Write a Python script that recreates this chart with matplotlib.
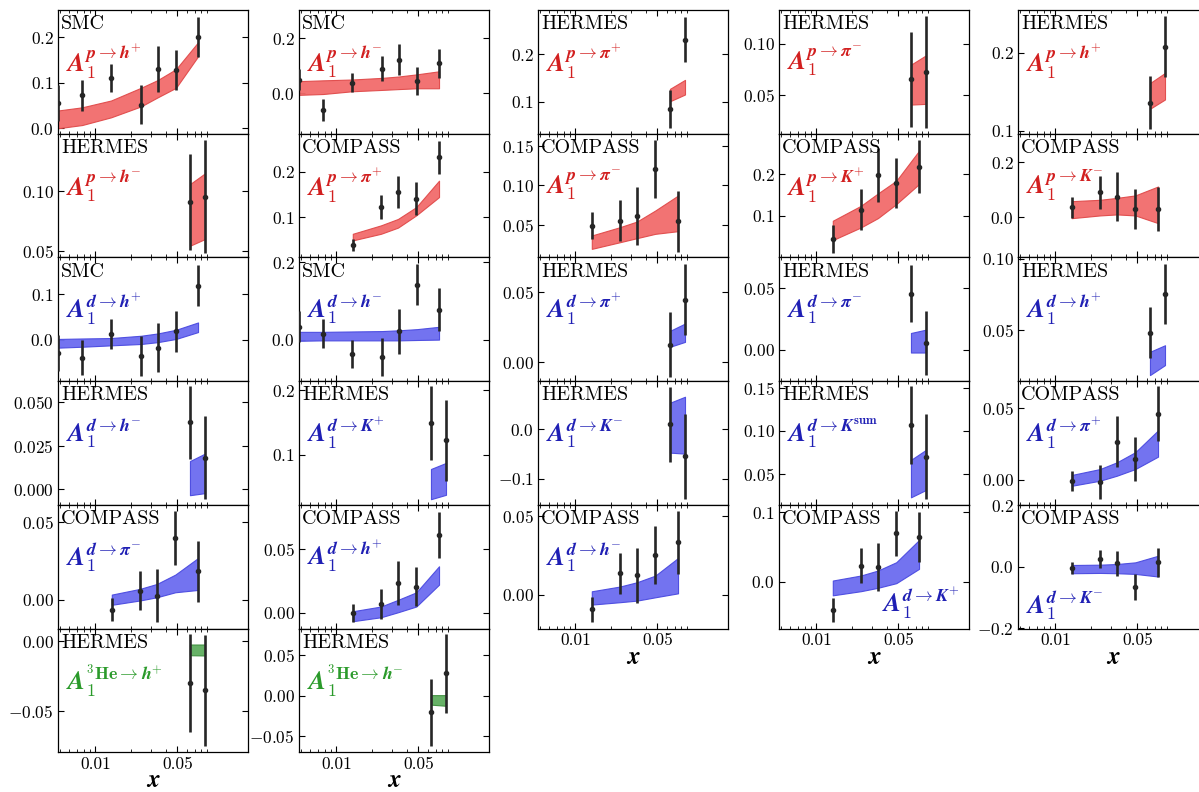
import matplotlib
matplotlib.use("Agg")
import matplotlib.pyplot as plt
from matplotlib.ticker import FixedLocator, FixedFormatter, NullFormatter, LogLocator

plt.rcParams["font.family"] = "serif"
plt.rcParams["font.serif"] = ["cmr10"]
plt.rcParams["mathtext.fontset"] = "cm"
plt.rcParams["axes.formatter.use_mathtext"] = True

# ---------------- x bins of the experiments ----------------
x_smc = [0.0048, 0.0077, 0.0136, 0.0245, 0.034, 0.0487, 0.075]
x_compass = [0.0138, 0.024, 0.0335, 0.048, 0.075]
x_hermes = [0.064, 0.086]

# ---------------- proton target ----------------
smc_p_hp_y = [0.055, 0.072, 0.110, 0.052, 0.130, 0.128, 0.200]
smc_p_hp_err = [0.040, 0.035, 0.031, 0.042, 0.050, 0.043, 0.044]
smc_p_hp_lo = [0.0, 0.007, 0.024, 0.048, 0.068, 0.089, 0.158]
smc_p_hp_hi = [0.039, 0.046, 0.061, 0.089, 0.106, 0.130, 0.189]

hermes_p_hm_y = [0.0908, 0.0954]
hermes_p_hm_err = [0.040, 0.047]
hermes_p_hm_lo = [0.0547, 0.0603]
hermes_p_hm_hi = [0.106, 0.115]

smc_p_hm_y = [0.050, -0.061, 0.039, 0.090, 0.123, 0.044, 0.110]
smc_p_hm_err = [0.040, 0.039, 0.034, 0.047, 0.058, 0.051, 0.053]
smc_p_hm_lo = [-0.006, -0.003, 0.007, 0.012, 0.015, 0.018, 0.018]
smc_p_hm_hi = [0.044, 0.047, 0.050, 0.056, 0.061, 0.069, 0.080]

compass_p_pip_y = [0.0394, 0.123, 0.156, 0.140, 0.231]
compass_p_pip_err = [0.0135, 0.026, 0.035, 0.036, 0.037]
compass_p_pip_lo = [0.049, 0.0635, 0.077, 0.104, 0.144]
compass_p_pip_hi = [0.0635, 0.082, 0.096, 0.122, 0.180]

hermes_p_pip_y = [0.0844, 0.231]
hermes_p_pip_err = [0.040, 0.048]
hermes_p_pip_lo = [0.1007, 0.115]
hermes_p_pip_hi = [0.127, 0.146]

compass_p_pim_y = [0.0487, 0.0551, 0.0611, 0.121, 0.0543]
compass_p_pim_err = [0.017, 0.026, 0.037, 0.037, 0.039]
compass_p_pim_lo = [0.0189, 0.0274, 0.0326, 0.0381, 0.0415]
compass_p_pim_hi = [0.036, 0.0466, 0.0538, 0.0679, 0.087]

hermes_p_pim_y = [0.0648, 0.0717]
hermes_p_pim_err = [0.047, 0.055]
hermes_p_pim_lo = [0.0401, 0.0408]
hermes_p_pim_hi = [0.0793, 0.0885]

compass_p_kp_y = [0.044, 0.1144, 0.198, 0.1776, 0.218]
compass_p_kp_err = [0.033, 0.049, 0.064, 0.060, 0.064]
compass_p_kp_lo = [0.0416, 0.072, 0.0944, 0.128, 0.176]
compass_p_kp_hi = [0.088, 0.124, 0.1536, 0.184, 0.256]

hermes_p_hp_y = [0.1358, 0.2078]
hermes_p_hp_err = [0.034, 0.039]
hermes_p_hp_lo = [0.128, 0.140]
hermes_p_hp_hi = [0.161, 0.1741]

compass_p_km_y = [0.036, 0.091, 0.075, 0.030, 0.030]
compass_p_km_err = [0.038, 0.060, 0.090, 0.073, 0.080]
compass_p_km_lo = [-0.004, 0.006, 0.0097, 0.006, -0.022]
compass_p_km_hi = [0.058, 0.063, 0.070, 0.079, 0.1115]

# ---------------- deuteron target ----------------
smc_d_hp_y = [-0.029, -0.039, 0.013, -0.035, -0.017, 0.019, 0.118]
smc_d_hp_err = [0.040, 0.038, 0.033, 0.044, 0.053, 0.045, 0.045]
smc_d_hp_lo = [-0.017, -0.015, -0.012, -0.009, -0.005, 0.002, 0.017]
smc_d_hp_hi = [0.002, 0.003, 0.004, 0.009, 0.014, 0.022, 0.038]

hermes_d_hm_y = [0.0383, 0.0181]
hermes_d_hm_err = [0.021, 0.024]
hermes_d_hm_lo = [-0.0035, -0.0023]
hermes_d_hm_hi = [0.0161, 0.0204]

compass_d_pim_y = [-0.0064, 0.0060, 0.0028, 0.0399, 0.0185]
compass_d_pim_err = [0.0075, 0.0128, 0.017, 0.0175, 0.0197]
compass_d_pim_lo = [-0.0032, -0.0004, 0.0017, 0.0049, 0.0064]
compass_d_pim_hi = [0.0034, 0.0071, 0.0103, 0.0163, 0.027]

smc_d_hm_y = [0.033, 0.0155, -0.038, -0.045, 0.021, 0.142, 0.077]
smc_d_hm_err = [0.040, 0.037, 0.036, 0.048, 0.058, 0.052, 0.055]
smc_d_hm_lo = [-0.003, -0.002, -0.002, -0.002, -0.002, -0.001, 0.0]
smc_d_hm_hi = [0.020, 0.020, 0.021, 0.022, 0.024, 0.027, 0.033]

hermes_d_kp_y = [0.149, 0.122]
hermes_d_kp_err = [0.058, 0.063]
hermes_d_kp_lo = [0.0307, 0.0375]
hermes_d_kp_hi = [0.0776, 0.087]

compass_d_hp_y = [0.0, 0.007, 0.0234, 0.0206, 0.0612]
compass_d_hp_err = [0.007, 0.012, 0.017, 0.015, 0.018]
compass_d_hp_lo = [-0.0065, -0.0034, 0.0005, 0.005, 0.0221]
compass_d_hp_hi = [0.0013, 0.005, 0.0102, 0.0161, 0.0365]

hermes_d_pip_y = [0.0127, 0.0446]
hermes_d_pip_err = [0.023, 0.025]
hermes_d_pip_lo = [0.0111, 0.0146]
hermes_d_pip_hi = [0.0224, 0.0276]

hermes_d_km_y = [0.0101, -0.0547]
hermes_d_km_err = [0.075, 0.086]
hermes_d_km_lo = [-0.047, -0.049]
hermes_d_km_hi = [0.0534, 0.0655]

compass_d_hm_y = [-0.0092, 0.0137, 0.0124, 0.0252, 0.0332]
compass_d_hm_err = [0.008, 0.013, 0.0175, 0.018, 0.020]
compass_d_hm_lo = [-0.0061, -0.0046, -0.0036, -0.0015, 0.001]
compass_d_hm_hi = [0.0023, 0.0053, 0.008, 0.0122, 0.0233]

hermes_d_pim_y = [0.0452, 0.0054]
hermes_d_pim_err = [0.023, 0.026]
hermes_d_pim_lo = [-0.0024, -0.0024]
hermes_d_pim_hi = [0.0134, 0.0161]

hermes_d_ksum_y = [0.107, 0.0702]
hermes_d_ksum_err = [0.045, 0.049]
hermes_d_ksum_lo = [0.0227, 0.0313]
hermes_d_ksum_hi = [0.0663, 0.078]

compass_d_kp_y = [-0.0409, 0.0231, 0.0207, 0.0697, 0.0649]
compass_d_kp_err = [0.017, 0.025, 0.035, 0.033, 0.036]
compass_d_kp_lo = [-0.020, -0.014, -0.0091, -0.0024, 0.0183]
compass_d_kp_hi = [0.0014, 0.0087, 0.0159, 0.0279, 0.060]

hermes_d_hp_y = [0.0484, 0.0756]
hermes_d_hp_err = [0.018, 0.021]
hermes_d_hp_lo = [0.0186, 0.0256]
hermes_d_hp_hi = [0.0349, 0.0395]

compass_d_pip_y = [-0.0007, -0.0014, 0.0265, 0.0144, 0.0458]
compass_d_pip_err = [0.007, 0.0117, 0.0175, 0.0155, 0.019]
compass_d_pip_lo = [-0.0042, -0.0007, 0.0028, 0.0074, 0.016]
compass_d_pip_hi = [0.0033, 0.0074, 0.0121, 0.0191, 0.0342]

compass_d_km_y = [-0.0054, 0.0247, 0.0107, -0.0665, 0.014]
compass_d_km_err = [0.020, 0.029, 0.040, 0.041, 0.048]
compass_d_km_lo = [-0.0214, -0.0204, -0.0214, -0.0236, -0.032]
compass_d_km_hi = [0.0054, 0.0064, 0.0086, 0.014, 0.0354]

# ---------------- helium-3 target ----------------
hermes_he_hp_y = [-0.0299, -0.0351]
hermes_he_hp_err = [0.035, 0.0395]
hermes_he_hp_lo = [-0.0100, -0.0102]
hermes_he_hp_hi = [-0.0024, -0.0024]

hermes_he_hm_y = [-0.0207, 0.0277]
hermes_he_hm_err = [0.042, 0.0485]
hermes_he_hm_lo = [-0.011, -0.0124]
hermes_he_hm_hi = [0.0008, 0.0008]

# ---------------- styling ----------------
FILL = {"p": "#f26b6b", "d": "#6b6bf0", "he": "#5fae5f"}
EDGE = {"p": "#e04a4a", "d": "#4a4ae0", "he": "#3d8f3d"}
TEXT = {"p": "#d21f1f", "d": "#1f1fb4", "he": "#2a9a2a"}


def label(target, hadron):
    tgt = {"p": r"\mathbfit{p}", "d": r"\mathbfit{d}", "he": r"^{\mathbf{3}}\mathbf{He}"}[target]
    had = {
        "h+": r"\mathbfit{h}^{+}", "h-": r"\mathbfit{h}^{-}",
        "pi+": r"\mathbfit{\pi}^{+}", "pi-": r"\mathbfit{\pi}^{-}",
        "K+": r"\mathbfit{K}^{+}", "K-": r"\mathbfit{K}^{-}",
        "Ksum": r"\mathbfit{K}^{\mathbf{sum}}",
    }[hadron]
    return r"$\mathbfit{A}_{\mathbf{1}}^{" + tgt + r"\rightarrow " + had + "}$"


# (column, row, experiment, target, hadron, x, y, err, lo, hi, ylim, yticks, label corner)
panels = [
    (0, 0, "SMC", "p", "h+", x_smc, smc_p_hp_y, smc_p_hp_err, smc_p_hp_lo, smc_p_hp_hi, (-0.012, 0.26), [0.0, 0.1, 0.2], "tl"),
    (0, 1, "HERMES", "p", "h-", x_hermes, hermes_p_hm_y, hermes_p_hm_err, hermes_p_hm_lo, hermes_p_hm_hi, (0.045, 0.148), [0.05, 0.10], "tl"),
    (0, 2, "SMC", "d", "h+", x_smc, smc_d_hp_y, smc_d_hp_err, smc_d_hp_lo, smc_d_hp_hi, (-0.09, 0.18), [0.0, 0.1], "tl"),
    (0, 3, "HERMES", "d", "h-", x_hermes, hermes_d_hm_y, hermes_d_hm_err, hermes_d_hm_lo, hermes_d_hm_hi, (-0.009, 0.062), [0.0, 0.025, 0.05], "tl"),
    (0, 4, "COMPASS", "d", "pi-", x_compass, compass_d_pim_y, compass_d_pim_err, compass_d_pim_lo, compass_d_pim_hi, (-0.0185, 0.0614), [0.0, 0.05], "tl"),
    (0, 5, "HERMES", "he", "h+", x_hermes, hermes_he_hp_y, hermes_he_hp_err, hermes_he_hp_lo, hermes_he_hp_hi, (-0.079, 0.009), [-0.05, 0.0], "tl"),
    (1, 0, "SMC", "p", "h-", x_smc, smc_p_hm_y, smc_p_hm_err, smc_p_hm_lo, smc_p_hm_hi, (-0.148, 0.304), [0.0, 0.2], "tl"),
    (1, 1, "COMPASS", "p", "pi+", x_compass, compass_p_pip_y, compass_p_pip_err, compass_p_pip_lo, compass_p_pip_hi, (0.0117, 0.283), [0.1, 0.2], "tl"),
    (1, 2, "SMC", "d", "h-", x_smc, smc_d_hm_y, smc_d_hm_err, smc_d_hm_lo, smc_d_hm_hi, (-0.107, 0.212), [0.0, 0.2], "tl"),
    (1, 3, "HERMES", "d", "K+", x_hermes, hermes_d_kp_y, hermes_d_kp_err, hermes_d_kp_lo, hermes_d_kp_hi, (0.022, 0.214), [0.1, 0.2], "tl"),
    (1, 4, "COMPASS", "d", "h+", x_compass, compass_d_hp_y, compass_d_hp_err, compass_d_hp_lo, compass_d_hp_hi, (-0.0122, 0.0846), [0.0, 0.05], "tl"),
    (1, 5, "HERMES", "he", "h-", x_hermes, hermes_he_hm_y, hermes_he_hm_err, hermes_he_hm_lo, hermes_he_hm_hi, (-0.070, 0.0835), [-0.05, 0.0, 0.05], "tl"),
    (2, 0, "HERMES", "p", "pi+", x_hermes, hermes_p_pip_y, hermes_p_pip_err, hermes_p_pip_lo, hermes_p_pip_hi, (0.032, 0.294), [0.1, 0.2], "tl"),
    (2, 1, "COMPASS", "p", "pi-", x_compass, compass_p_pim_y, compass_p_pim_err, compass_p_pim_lo, compass_p_pim_hi, (0.008, 0.166), [0.05, 0.10, 0.15], "tl"),
    (2, 2, "HERMES", "d", "pi+", x_hermes, hermes_d_pip_y, hermes_d_pip_err, hermes_d_pip_lo, hermes_d_pip_hi, (-0.0132, 0.0745), [0.0, 0.05], "tl"),
    (2, 3, "HERMES", "d", "K-", x_hermes, hermes_d_km_y, hermes_d_km_err, hermes_d_km_lo, hermes_d_km_hi, (-0.152, 0.097), [-0.1, 0.0], "tl"),
    (2, 4, "COMPASS", "d", "h-", x_compass, compass_d_hm_y, compass_d_hm_err, compass_d_hm_lo, compass_d_hm_hi, (-0.0212, 0.0569), [0.0, 0.05], "tl"),
    (3, 0, "HERMES", "p", "pi-", x_hermes, hermes_p_pim_y, hermes_p_pim_err, hermes_p_pim_lo, hermes_p_pim_hi, (0.0115, 0.133), [0.05, 0.10], "tl"),
    (3, 1, "COMPASS", "p", "K+", x_compass, compass_p_kp_y, compass_p_kp_err, compass_p_kp_lo, compass_p_kp_hi, (0.0, 0.297), [0.1, 0.2], "tl"),
    (3, 2, "HERMES", "d", "pi-", x_hermes, hermes_d_pim_y, hermes_d_pim_err, hermes_d_pim_lo, hermes_d_pim_hi, (-0.0255, 0.0745), [0.0, 0.05], "tl"),
    (3, 3, "HERMES", "d", "Ksum", x_hermes, hermes_d_ksum_y, hermes_d_ksum_err, hermes_d_ksum_lo, hermes_d_ksum_hi, (0.014, 0.158), [0.05, 0.10, 0.15], "tl"),
    (3, 4, "COMPASS", "d", "K+", x_compass, compass_d_kp_y, compass_d_kp_err, compass_d_kp_lo, compass_d_kp_hi, (-0.068, 0.111), [0.0, 0.1], "br"),
    (4, 0, "HERMES", "p", "h+", x_hermes, hermes_p_hp_y, hermes_p_hp_err, hermes_p_hp_lo, hermes_p_hp_hi, (0.096, 0.255), [0.1, 0.2], "tl"),
    (4, 1, "COMPASS", "p", "K-", x_compass, compass_p_km_y, compass_p_km_err, compass_p_km_lo, compass_p_km_hi, (-0.147, 0.304), [0.0, 0.2], "tl"),
    (4, 2, "HERMES", "d", "h+", x_hermes, hermes_d_hp_y, hermes_d_hp_err, hermes_d_hp_lo, hermes_d_hp_hi, (0.0144, 0.101), [0.05, 0.10], "tl"),
    (4, 3, "COMPASS", "d", "pi+", x_compass, compass_d_pip_y, compass_d_pip_err, compass_d_pip_lo, compass_d_pip_hi, (-0.0174, 0.0684), [0.0, 0.05], "tl"),
    (4, 4, "COMPASS", "d", "K-", x_compass, compass_d_km_y, compass_d_km_err, compass_d_km_lo, compass_d_km_hi, (-0.201, 0.201), [-0.2, 0.0, 0.2], "bl"),
]

W, H = 1199, 792
fig = plt.figure(figsize=(W / 100, H / 100), dpi=100)

col_left = [58, 299, 538, 779, 1018]
ax_w = 190
row_top0 = 10
row_h = 123.7
n_rows = {0: 6, 1: 6, 2: 5, 3: 5, 4: 5}

for (c, r, expt, tgt, had, x, y, err, lo, hi, ylim, yticks, corner) in panels:
    top = row_top0 + r * row_h
    ax = fig.add_axes([col_left[c] / W, 1 - (top + row_h) / H, ax_w / W, row_h / H])
    ax.set_xscale("log")
    ax.set_xlim(0.0048, 0.2)
    ax.set_ylim(*ylim)

    ax.fill_between(x, lo, hi, facecolor=FILL[tgt], edgecolor=EDGE[tgt],
                    linewidth=0.8, alpha=0.95, zorder=2)
    ax.errorbar(x, y, yerr=err, fmt="o", color="#262626", ms=3.0,
                elinewidth=1.9, capsize=0, zorder=3, clip_on=True)

    ax.set_yticks(yticks)
    ax.xaxis.set_major_locator(FixedLocator([0.01, 0.05]))
    ax.xaxis.set_minor_locator(LogLocator(base=10, subs=range(2, 10), numticks=20))
    ax.xaxis.set_minor_formatter(NullFormatter())
    bottom_row = (r == n_rows[c] - 1)
    if bottom_row:
        ax.xaxis.set_major_formatter(FixedFormatter(["0.01", "0.05"]))
        ax.set_xlabel(r"$\mathbfit{x}$", fontsize=18, labelpad=-1)
    else:
        ax.xaxis.set_major_formatter(NullFormatter())

    ax.tick_params(which="both", direction="in", top=True, right=True)
    ax.tick_params(which="major", length=4, width=0.8, labelsize=12.5, pad=3)
    ax.tick_params(which="minor", length=2, width=0.6)
    for s in ax.spines.values():
        s.set_linewidth(0.9)

    ax.text(0.015, 0.885, expt, transform=ax.transAxes, fontsize=14.5,
            ha="left", va="center", color="black", zorder=4)
    if corner == "tl":
        lx, ly = 0.04, 0.58
    elif corner == "br":
        lx, ly = 0.54, 0.20
    else:
        lx, ly = 0.04, 0.19
    ax.text(lx, ly, label(tgt, had), transform=ax.transAxes, fontsize=18.5,
            ha="left", va="center", color=TEXT[tgt], zorder=4)

fig.savefig("out.png", dpi=100)
